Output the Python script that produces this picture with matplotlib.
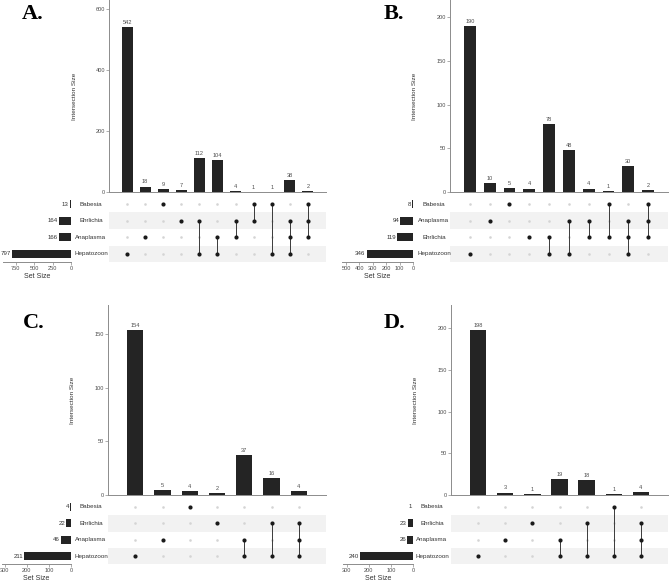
import matplotlib
matplotlib.use("Agg")
import matplotlib.pyplot as plt
from matplotlib.transforms import blended_transform_factory

plt.rcParams['font.family'] = ['Liberation Sans', 'DejaVu Sans']

# ---------------- DATA ----------------
# Panel A
sets_A = ["Babesia", "Ehrlichia", "Anaplasma", "Hepatozoon"]
set_sizes_A = [13, 164, 166, 797]
inter_A = [["Hepatozoon"], ["Anaplasma"], ["Babesia"], ["Ehrlichia"],
           ["Ehrlichia", "Hepatozoon"], ["Anaplasma", "Hepatozoon"],
           ["Ehrlichia", "Anaplasma"], ["Babesia", "Ehrlichia"],
           ["Babesia", "Hepatozoon"], ["Ehrlichia", "Anaplasma", "Hepatozoon"],
           ["Babesia", "Ehrlichia", "Anaplasma"]]
counts_A = [542, 18, 9, 7, 112, 104, 4, 1, 1, 38, 2]
yticks_A = [0, 200, 400, 600]
sticks_A = [750, 500, 250, 0]

# Panel B
sets_B = ["Babesia", "Anaplasma", "Ehrlichia", "Hepatozoon"]
set_sizes_B = [8, 94, 119, 346]
inter_B = [["Hepatozoon"], ["Anaplasma"], ["Babesia"], ["Ehrlichia"],
           ["Ehrlichia", "Hepatozoon"], ["Anaplasma", "Hepatozoon"],
           ["Anaplasma", "Ehrlichia"], ["Babesia", "Ehrlichia"],
           ["Anaplasma", "Ehrlichia", "Hepatozoon"],
           ["Babesia", "Anaplasma", "Ehrlichia"]]
counts_B = [190, 10, 5, 4, 78, 48, 4, 1, 30, 2]
yticks_B = [0, 50, 100, 150, 200]
sticks_B = [500, 400, 300, 200, 100, 0]

# Panel C
sets_C = ["Babesia", "Ehrlichia", "Anaplasma", "Hepatozoon"]
set_sizes_C = [4, 22, 46, 211]
inter_C = [["Hepatozoon"], ["Anaplasma"], ["Babesia"], ["Ehrlichia"],
           ["Anaplasma", "Hepatozoon"], ["Ehrlichia", "Hepatozoon"],
           ["Ehrlichia", "Anaplasma", "Hepatozoon"]]
counts_C = [154, 5, 4, 2, 37, 16, 4]
yticks_C = [0, 50, 100, 150]
sticks_C = [300, 200, 100, 0]

# Panel D
sets_D = ["Babesia", "Ehrlichia", "Anaplasma", "Hepatozoon"]
set_sizes_D = [1, 23, 26, 240]
inter_D = [["Hepatozoon"], ["Anaplasma"], ["Ehrlichia"],
           ["Anaplasma", "Hepatozoon"], ["Ehrlichia", "Hepatozoon"],
           ["Babesia", "Hepatozoon"], ["Ehrlichia", "Anaplasma", "Hepatozoon"]]
counts_D = [198, 3, 1, 19, 18, 1, 4]
yticks_D = [0, 50, 100, 150, 200]
sticks_D = [300, 200, 100, 0]

panel_letters = ["A.", "B.", "C.", "D."]

# ---------------- LAYOUT ----------------
W, H = 669, 581
fig = plt.figure(figsize=(W / 100, H / 100), dpi=100)
fig.patch.set_facecolor("white")


def ax_px(x0, y0, x1, y1):
    return fig.add_axes([x0 / W, 1 - y1 / H, (x1 - x0) / W, (y1 - y0) / H])


BAR_C = "#242424"
TXT_C = "#4d4d4d"
SPINE_C = "#8c8c8c"

layouts = [
    dict(bx=(109, 326), by=(0, 192), my=(195.7, 262.3), sx=(3, 71), nx=91, let=(33, 14), smax=920, ymax=630),
    dict(bx=(450, 668), by=(0, 192), my=(195.7, 262.3), sx=(342, 413), nx=434, let=(394, 14), smax=530, ymax=220),
    dict(bx=(108, 326), by=(305, 495), my=(498.7, 564.3), sx=(2, 71), nx=91, let=(34, 323), smax=312, ymax=177),
    dict(bx=(451, 668), by=(305, 495), my=(498.7, 564.3), sx=(343, 413), nx=432, let=(395, 323), smax=317, ymax=228),
]

panels = [
    (sets_A, set_sizes_A, inter_A, counts_A, yticks_A, sticks_A),
    (sets_B, set_sizes_B, inter_B, counts_B, yticks_B, sticks_B),
    (sets_C, set_sizes_C, inter_C, counts_C, yticks_C, sticks_C),
    (sets_D, set_sizes_D, inter_D, counts_D, yticks_D, sticks_D),
]

for (sets, ssizes, inters, counts, yt, st), L, letter in zip(panels, layouts, panel_letters):
    n = len(counts)
    xs = list(range(n))

    # ---- intersection bars ----
    axb = ax_px(L["bx"][0], L["by"][0], L["bx"][1], L["by"][1])
    axb.bar(xs, counts, width=0.6, color=BAR_C)
    axb.set_xlim(-1, n)
    axb.set_ylim(0, L["ymax"])
    for x, c in zip(xs, counts):
        axb.annotate(str(c), (x, c), xytext=(0, 1.5), textcoords="offset points",
                     ha="center", va="bottom", fontsize=4.1, color=TXT_C)
    for s in ["top", "right"]:
        axb.spines[s].set_visible(False)
    for s in ["left", "bottom"]:
        axb.spines[s].set_color(SPINE_C)
        axb.spines[s].set_linewidth(0.7)
    axb.set_xticks([])
    axb.set_yticks(yt)
    axb.tick_params(axis="y", labelsize=4.1, labelcolor=TXT_C, length=2, width=0.5,
                    color=SPINE_C, pad=1)
    axb.patch.set_alpha(0)
    ycen = (L["by"][0] + L["by"][1]) / 2
    fig.text((L["bx"][0] - 35) / W, 1 - ycen / H, "Intersection Size", rotation=90,
             ha="center", va="center", fontsize=4.6, color="#333333")

    # ---- matrix ----
    axm = ax_px(L["bx"][0], L["my"][0], L["bx"][1], L["my"][1])
    axm.set_xlim(-1, n)
    axm.set_ylim(len(sets) - 0.5, -0.5)
    for i in range(len(sets)):
        if i % 2 == 1:
            axm.axhspan(i - 0.5, i + 0.5, color="#f2f2f2", lw=0, zorder=0)
    for x, members in zip(xs, inters):
        rows = [sets.index(m) for m in members]
        empty = [i for i in range(len(sets)) if i not in rows]
        axm.scatter([x] * len(empty), empty, s=3.5, color="#d4d4d4", lw=0, zorder=2)
        if len(rows) > 1:
            axm.plot([x, x], [min(rows), max(rows)], color="#3a3a3a", lw=0.7, zorder=3)
        axm.scatter([x] * len(rows), rows, s=9, color="#1a1a1a", lw=0, zorder=4)
    axm.axis("off")

    # set names
    tr = blended_transform_factory(fig.transFigure, axm.transData)
    for i, name in enumerate(sets):
        axm.text(L["nx"] / W, i, name, transform=tr, ha="center", va="center",
                 fontsize=4.5, color="#333333")

    # ---- set size bars ----
    axs = ax_px(L["sx"][0], L["my"][0], L["sx"][1], L["my"][1])
    ys = list(range(len(sets)))
    axs.barh(ys, ssizes, height=0.48, color=BAR_C)
    axs.set_xlim(L["smax"], 0)
    axs.set_ylim(len(sets) - 0.5, -0.5)
    for y, v in zip(ys, ssizes):
        axs.annotate(str(v), (v, y), xytext=(-0.8, 0), textcoords="offset points",
                     ha="right", va="center", fontsize=4.4, color="#333333")
    for s in ["top", "right", "left"]:
        axs.spines[s].set_visible(False)
    axs.spines["bottom"].set_color(SPINE_C)
    axs.spines["bottom"].set_linewidth(0.7)
    axs.set_yticks([])
    axs.set_xticks(st)
    axs.tick_params(axis="x", labelsize=4.1, labelcolor=TXT_C, length=2, width=0.5,
                    color=SPINE_C, pad=1)
    axs.set_xlabel("Set Size", fontsize=5.0, color="#333333", labelpad=1)
    axs.patch.set_alpha(0)

    # panel letter
    fig.text(L["let"][0] / W, 1 - L["let"][1] / H, letter, ha="center", va="center",
             fontsize=16, fontweight="bold", family="Liberation Serif", color="black")

fig.savefig("out.png", dpi=100)
